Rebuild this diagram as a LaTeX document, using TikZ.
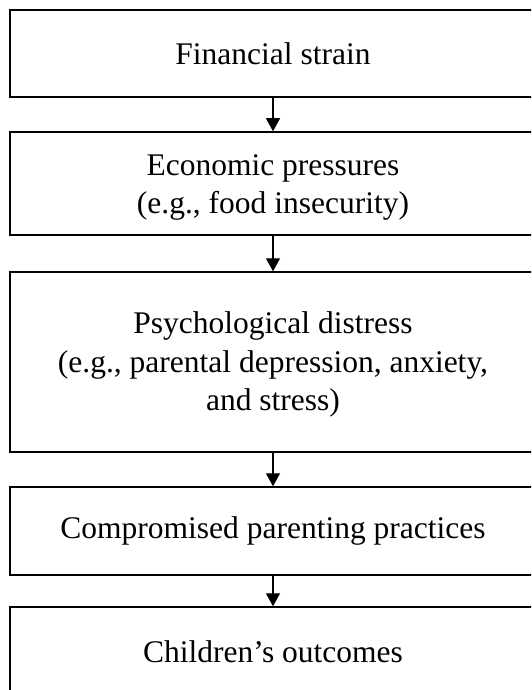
\documentclass[tikz,border=0pt]{standalone}
\usepackage{fontspec}
\setmainfont{Liberation Serif}
\usetikzlibrary{arrows.meta}
\tikzset{
  box/.style={draw=black, line width=1.5pt, minimum width=526pt, inner sep=0pt, fill=white},
  txt/.style={align=center, inner sep=0pt, font=\fontsize{31.5}{38.5}\selectfont},
  arr/.style={line width=1.3pt, -{Triangle[length=13pt,width=14pt]}}
}
\begin{document}
\begin{tikzpicture}[x=1pt,y=-1pt]
\useasboundingbox (0,0) rectangle (531,690);
\clip (0,0) rectangle (531,690);
\fill[white] (0,0) rectangle (531,690);
\node[box, minimum height=87pt]  (b1) at (273,53.5) {};
\node[box, minimum height=103pt] (b2) at (273,183.5) {};
\node[box, minimum height=180pt] (b3) at (273,362) {};
\node[box, minimum height=88pt]  (b4) at (273,531) {};
\node[box, minimum height=90pt]  (b5) at (273,652) {};
\node[txt] (t1) at (b1.center) {Financial strain};
\node[txt, yshift=-4pt] (t2) at (b2.center) {Economic pressures\\(e.g., food insecurity)};
\node[txt, yshift=-2.5pt] (t3) at (b3.center) {Psychological distress\\(e.g., parental depression, anxiety,\\and stress)};
\node[txt] (t4) at (b4.center) {Compromised parenting practices};
\node[txt] (t5) at (b5.center) {Children’s outcomes};
\draw[arr] (b1.south) -- (b2.north);
\draw[arr] (b2.south) -- (b3.north);
\draw[arr] (b3.south) -- (b4.north);
\draw[arr] (b4.south) -- (b5.north);
\end{tikzpicture}
\end{document}
